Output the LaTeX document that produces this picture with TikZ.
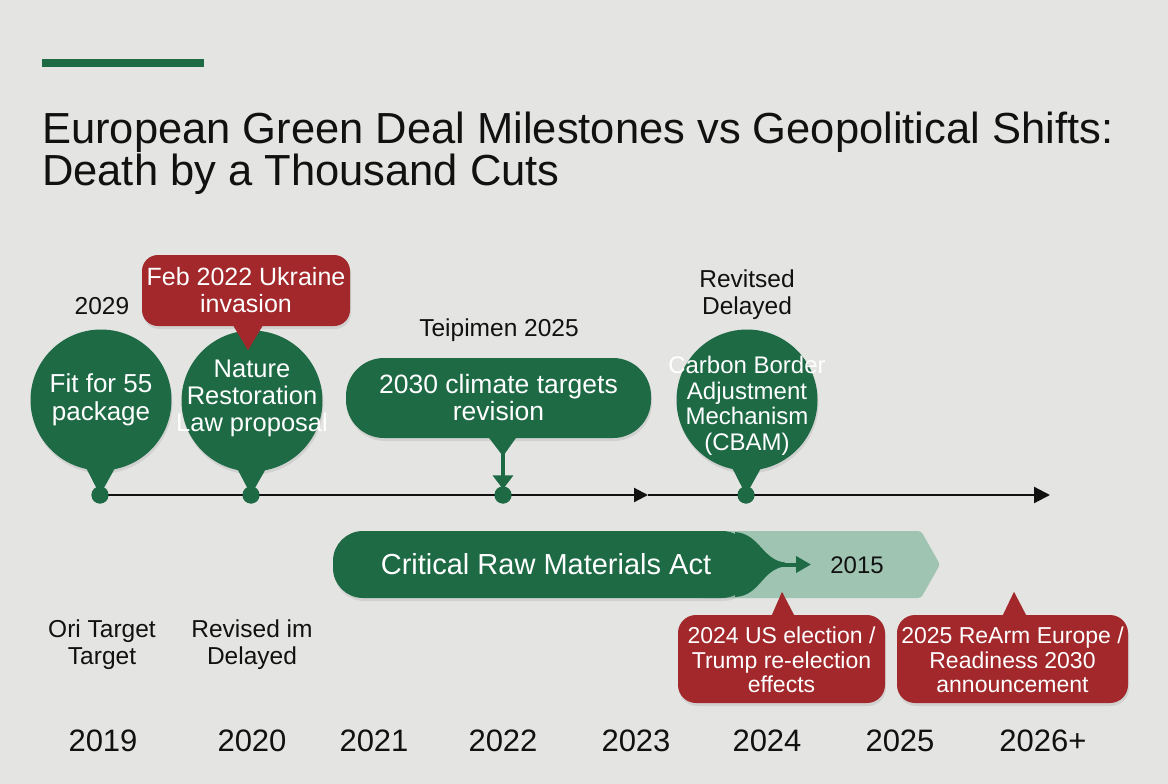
\documentclass[tikz,border=0pt]{standalone}
\usepackage{fontspec}
\setmainfont{Liberation Sans}
\usetikzlibrary{arrows.meta,shadows,calc}
\definecolor{bg}{HTML}{E4E4E2}
\definecolor{eugreen}{HTML}{1D6A45}
\definecolor{eured}{HTML}{A2282B}
\definecolor{sage}{HTML}{9FC4B1}
\definecolor{ink}{HTML}{111111}
\tikzset{
  shad/.style={drop shadow={opacity=0.18, shadow xshift=1pt, shadow yshift=-3pt}},
  milestone/.style={circle, fill=eugreen, minimum size=141pt, inner sep=0pt, shad},
  mtext/.style={text=white, align=center, inner sep=0pt},
  tldot/.style={circle, fill=eugreen, minimum size=17pt, inner sep=0pt},
  redcall/.style={rectangle, fill=eured, text=white, align=center, inner sep=0pt, shad},
  lbl/.style={text=ink, align=center, inner sep=0pt, font=\fontsize{24.5}{27}\selectfont},
  yr/.style={text=ink, inner sep=0pt, font=\fontsize{31}{34}\selectfont},
  axisline/.style={draw=ink, line width=2.2pt},
}
\begin{document}
\begin{tikzpicture}[x=1pt,y=-1pt]
\fill[bg] (0,0) rectangle (1168,784);
\useasboundingbox (0,0) rectangle (1168,784);

% top accent bar and title
\fill[eugreen] (42,59) rectangle (204,67);
\node[anchor=base west, inner sep=0pt, text=ink, font=\fontsize{43.5}{48}\selectfont] (title1) at (42,143) {European Green Deal Milestones vs Geopolitical Shifts:};
\node[anchor=base west, inner sep=0pt, text=ink, font=\fontsize{43.5}{48}\selectfont] (title2) at (42,185) {Death by a Thousand Cuts};

% axis
\node[tldot] (d1) at (100,495) {};
\node[tldot] (d2) at (251,495) {};
\node[tldot] (d3) at (503,495) {};
\node[tldot] (d4) at (746,495) {};
\coordinate (axmid) at (648,495);
\coordinate (axend) at (1050,495);
\draw[axisline, -{Triangle[length=14pt,width=14pt]}] (d1.center) -- (axmid);
\draw[axisline, -{Triangle[length=16pt,width=16pt]}] (axmid) -- (axend);

% milestone circles
\node[milestone] (fit) at (101,400) {};
\node[milestone] (nrl) at (252,401) {};
\node[milestone] (cbam) at (747,400) {};
\fill[eugreen] ($(fit.center)+(-24,50)$) -- (d1.center) -- ($(fit.center)+(24,50)$) -- cycle;
\fill[eugreen] ($(nrl.center)+(-24,50)$) -- (d2.center) -- ($(nrl.center)+(24,50)$) -- cycle;
\fill[eugreen] ($(cbam.center)+(-24,50)$) -- (d4.center) -- ($(cbam.center)+(24,50)$) -- cycle;
\node[tldot] at (d1) {};
\node[tldot] at (d2) {};
\node[tldot] at (d4) {};
\node[mtext, font=\fontsize{26}{28}\selectfont] (fittxt) at (101,400) {Fit for 55\\package};
\node[mtext, font=\fontsize{25.5}{27}\selectfont] (nrltxt) at (252,398) {Nature\\Restoration\\Law proposal};
\node[mtext, font=\fontsize{24}{25.5}\selectfont] (cbamtxt) at (747,406) {Carbon Border\\Adjustment\\Mechanism\\(CBAM)};

% pill
\node[rectangle, rounded corners=38pt, fill=eugreen, text=white, minimum width=305pt, minimum height=80pt, align=center, inner sep=0pt, font=\fontsize{26.5}{27}\selectfont, shad] (pill) at (498.5,398) {2030 climate targets\\revision};
\fill[eugreen] ($(pill.south)+(-10,-1)$) -- ($(pill.south)+(18,-1)$) -- ($(pill.south)+(4.5,18)$) -- cycle;
\draw[eugreen, line width=4pt, -{Triangle[length=14pt,width=20pt]}] ($(pill.south)+(4.5,14)$) -- ($(d3.north)+(0,3)$);
\node[tldot] at (d3) {};

% red callout top
\node[redcall, rounded corners=16pt, minimum width=208pt, minimum height=71pt, font=\fontsize{25}{27}\selectfont] (feb) at (246,290.5) {Feb 2022 Ukraine\\invasion};
\fill[eured] ($(feb.south)+(-13,-1)$) -- ($(feb.south)+(17,-1)$) -- ($(feb.south)+(2,24)$) -- cycle;

% labels above
\node[lbl] (l2029) at (102,306) {2029};
\node[lbl] (teip) at (499,330) {Teipimen 2025};
\node[lbl] (revd) at (747,295) {Revitsed\\Delayed};

% Critical Raw Materials band
\fill[sage, rounded corners=3pt] (700,531) -- (921,531) -- (940,564.5) -- (921,598) -- (700,598) -- cycle;
\node[rectangle, rounded corners=30pt, fill=eugreen, text=white, minimum width=419pt, minimum height=67pt, inner sep=0pt, font=\fontsize{29}{30}\selectfont, shad] (crm) at (542.5,564.5) {\hspace*{7pt}Critical Raw Materials Act};
\fill[eugreen] (735,532) .. controls (760,534) and (762,560) .. (785,562.5) -- (785,566.5) .. controls (762,569) and (760,596) .. (735,597) -- cycle;
\coordinate (crmtip) at (811,564.5);
\draw[eugreen, line width=4pt, -{Triangle[length=15pt,width=16pt]}] (crm.east) -- (crmtip);
\node[text=ink, inner sep=0pt, font=\fontsize{24}{26}\selectfont] (y2015) at (857,565) {2015};

% red callouts bottom
\node[redcall, rounded corners=18pt, minimum width=207pt, minimum height=88pt, font=\fontsize{23}{24.5}\selectfont] (us) at (781.5,659) {\rule{0pt}{19pt}2024 US election /\\Trump re-election\\effects};
\fill[eured] ($(us.north)+(-10,1)$) -- ($(us.north)+(13,1)$) -- ($(us.north)+(0.5,-23)$) -- cycle;
\node[redcall, rounded corners=18pt, minimum width=231pt, minimum height=88pt, font=\fontsize{23}{24.5}\selectfont] (rearm) at (1012.5,659) {\rule{0pt}{19pt}2025 ReArm Europe /\\Readiness 2030\\announcement};
\fill[eured] ($(rearm.north)+(-10,1)$) -- ($(rearm.north)+(14,1)$) -- ($(rearm.north)+(1.5,-23)$) -- cycle;

% labels below
\node[lbl] (ori) at (102,645) {Ori Target\\Target};
\node[lbl] (revim) at (252,645) {Revised im\\Delayed};

% years
\node[yr] (y19) at (103,741) {2019};
\node[yr] (y20) at (252,741) {2020};
\node[yr] (y21) at (374,741) {2021};
\node[yr] (y22) at (503,741) {2022};
\node[yr] (y23) at (636,741) {2023};
\node[yr] (y24) at (767,741) {2024};
\node[yr] (y25) at (900,741) {2025};
\node[yr] (y26) at (1043,741) {2026+};
\end{tikzpicture}
\end{document}
